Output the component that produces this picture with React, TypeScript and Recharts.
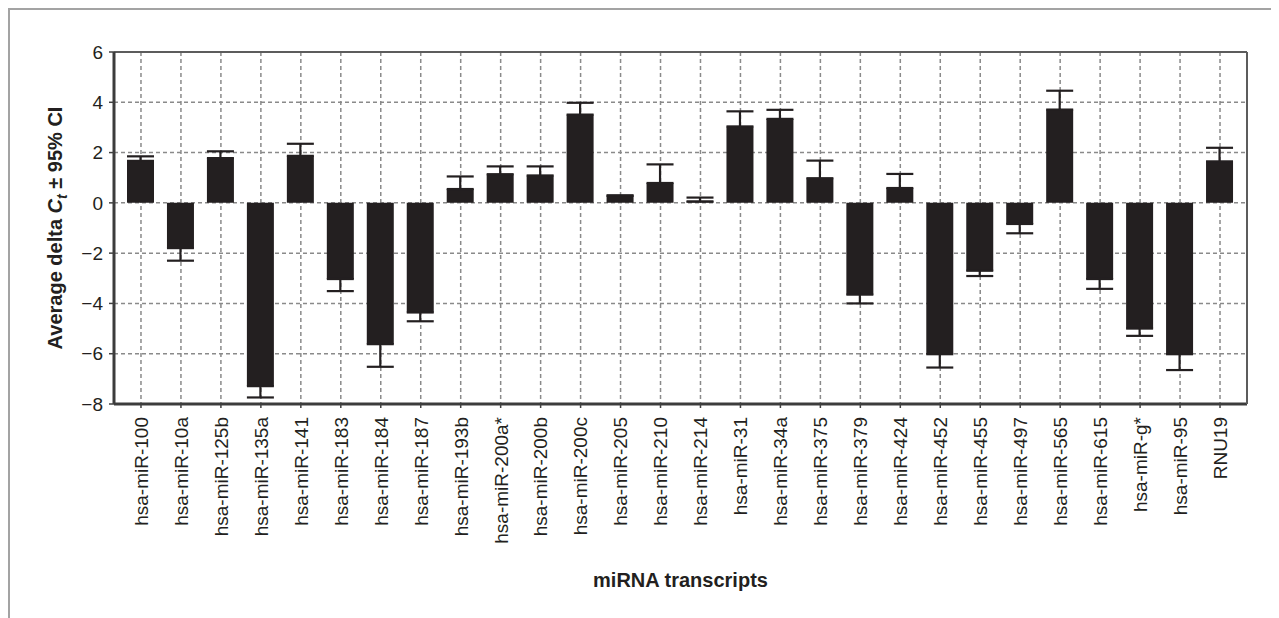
import React from 'react';
import { BarChart, Bar, XAxis, YAxis, CartesianGrid, ErrorBar } from 'recharts';

const categories = [
  'hsa-miR-100', 'hsa-miR-10a', 'hsa-miR-125b', 'hsa-miR-135a', 'hsa-miR-141',
  'hsa-miR-183', 'hsa-miR-184', 'hsa-miR-187', 'hsa-miR-193b', 'hsa-miR-200a*',
  'hsa-miR-200b', 'hsa-miR-200c', 'hsa-miR-205', 'hsa-miR-210', 'hsa-miR-214',
  'hsa-miR-31', 'hsa-miR-34a', 'hsa-miR-375', 'hsa-miR-379', 'hsa-miR-424',
  'hsa-miR-452', 'hsa-miR-455', 'hsa-miR-497', 'hsa-miR-565', 'hsa-miR-615',
  'hsa-miR-g*', 'hsa-miR-95', 'RNU19',
];

const meanDeltaCt = [
  1.67, -1.8, 1.78, -7.29, 1.87,
  -3.03, -5.62, -4.36, 0.55, 1.14,
  1.09, 3.51, 0.28, 0.79, 0.06,
  3.04, 3.34, 0.98, -3.65, 0.59,
  -6.02, -2.7, -0.84, 3.71, -3.03,
  -5.0, -6.02, 1.65,
];

const ci95 = [
  0.18, 0.5, 0.27, 0.45, 0.48,
  0.48, 0.9, 0.35, 0.5, 0.31,
  0.36, 0.47, 0.02, 0.74, 0.15,
  0.6, 0.36, 0.7, 0.35, 0.56,
  0.53, 0.21, 0.37, 0.75, 0.39,
  0.29, 0.63, 0.54,
];

const yTicks = [-8, -6, -4, -2, 0, 2, 4, 6];

const data = categories.map((name, i) => ({
  name,
  value: meanDeltaCt[i],
  err: meanDeltaCt[i] >= 0 ? [0, ci95[i]] : [ci95[i], 0],
}));

const FONT = '"Liberation Sans", Arial, Helvetica, sans-serif';
const INK = '#231f20';

const XTick = (props: any) => {
  const { x, y, payload } = props;
  return (
    <g transform={`translate(${x},${y})`}>
      <text
        transform="rotate(-90)"
        x={0}
        y={0}
        dy="0.36em"
        textAnchor="end"
        fontSize={19}
        fontFamily={FONT}
        fill={INK}
      >
        {payload.value}
      </text>
    </g>
  );
};

const YLabel = (props: any) => {
  const vb = props.viewBox || { x: 0, y: 42, width: 104, height: 352 };
  const cx = vb.x + 52;
  const cy = vb.y + vb.height / 2;
  return (
    <text
      transform={`translate(${cx},${cy}) rotate(-90)`}
      textAnchor="middle"
      fontSize={20}
      fontWeight="bold"
      fontFamily={FONT}
      fill={INK}
    >
      Average delta <tspan fontStyle="italic">C</tspan>
      <tspan fontSize={14} dy={5} fontStyle="italic">t</tspan>
      <tspan dy={-5}> ± 95% CI</tspan>
    </text>
  );
};

const XLabel = (props: any) => {
  const vb = props.viewBox || { x: 104, y: 394, width: 1133, height: 212 };
  return (
    <text
      x={vb.x + vb.width / 2}
      y={vb.y + 183}
      textAnchor="middle"
      fontSize={20}
      fontWeight="bold"
      fontFamily={FONT}
      fill={INK}
    >
      miRNA transcripts
    </text>
  );
};

const fmtY = (v: number) => (v < 0 ? `\u2212${Math.abs(v)}` : `${v}`);

export default function App() {
  return (
    <>
      <style>{`body{overflow:hidden;}`}</style>
      <div
        style={{
          width: 1270,
          height: 640,
          border: '2px solid #a3a3a3',
          boxSizing: 'border-box',
          background: '#fff',
        }}
      >
        <BarChart
          width={1266}
          height={606}
          data={data}
          margin={{ top: 0, right: 0, bottom: 0, left: 0 }}
          barSize={27}
        >
          <CartesianGrid stroke="#8a8a8a" strokeDasharray="4 3" strokeWidth={1.5} />
          <XAxis
            dataKey="name"
            interval={0}
            height={212}
            padding={{ left: 7, right: 7 }}
            tick={<XTick />}
            tickSize={4}
            tickMargin={9}
            tickLine={{ stroke: '#404040', strokeWidth: 1.5 }}
            axisLine={{ stroke: '#3c3c3c', strokeWidth: 3 }}
            label={<XLabel />}
          />
          <XAxis
            xAxisId="top"
            orientation="top"
            dataKey="name"
            height={42}
            tick={false}
            tickLine={false}
            axisLine={{ stroke: '#5c5c5c', strokeWidth: 2 }}
          />
          <YAxis
            width={104}
            domain={[-8, 6]}
            ticks={yTicks}
            interval={0}
            allowDataOverflow
            tickFormatter={fmtY}
            tickSize={5}
            tickMargin={6}
            tick={{ fontSize: 19, fill: INK, fontFamily: FONT }}
            tickLine={{ stroke: '#404040', strokeWidth: 1.5 }}
            axisLine={{ stroke: '#3c3c3c', strokeWidth: 3 }}
            label={<YLabel />}
          />
          <YAxis
            yAxisId="right"
            orientation="right"
            width={29}
            domain={[-8, 6]}
            tick={false}
            tickLine={false}
            axisLine={{ stroke: '#5c5c5c', strokeWidth: 2 }}
          />
          <Bar dataKey="value" fill={INK} isAnimationActive={false}>
            <ErrorBar
              dataKey="err"
              direction="y"
              width={13.5}
              stroke={INK}
              strokeWidth={2.2}
              isAnimationActive={false}
            />
          </Bar>
        </BarChart>
      </div>
    </>
  );
}
